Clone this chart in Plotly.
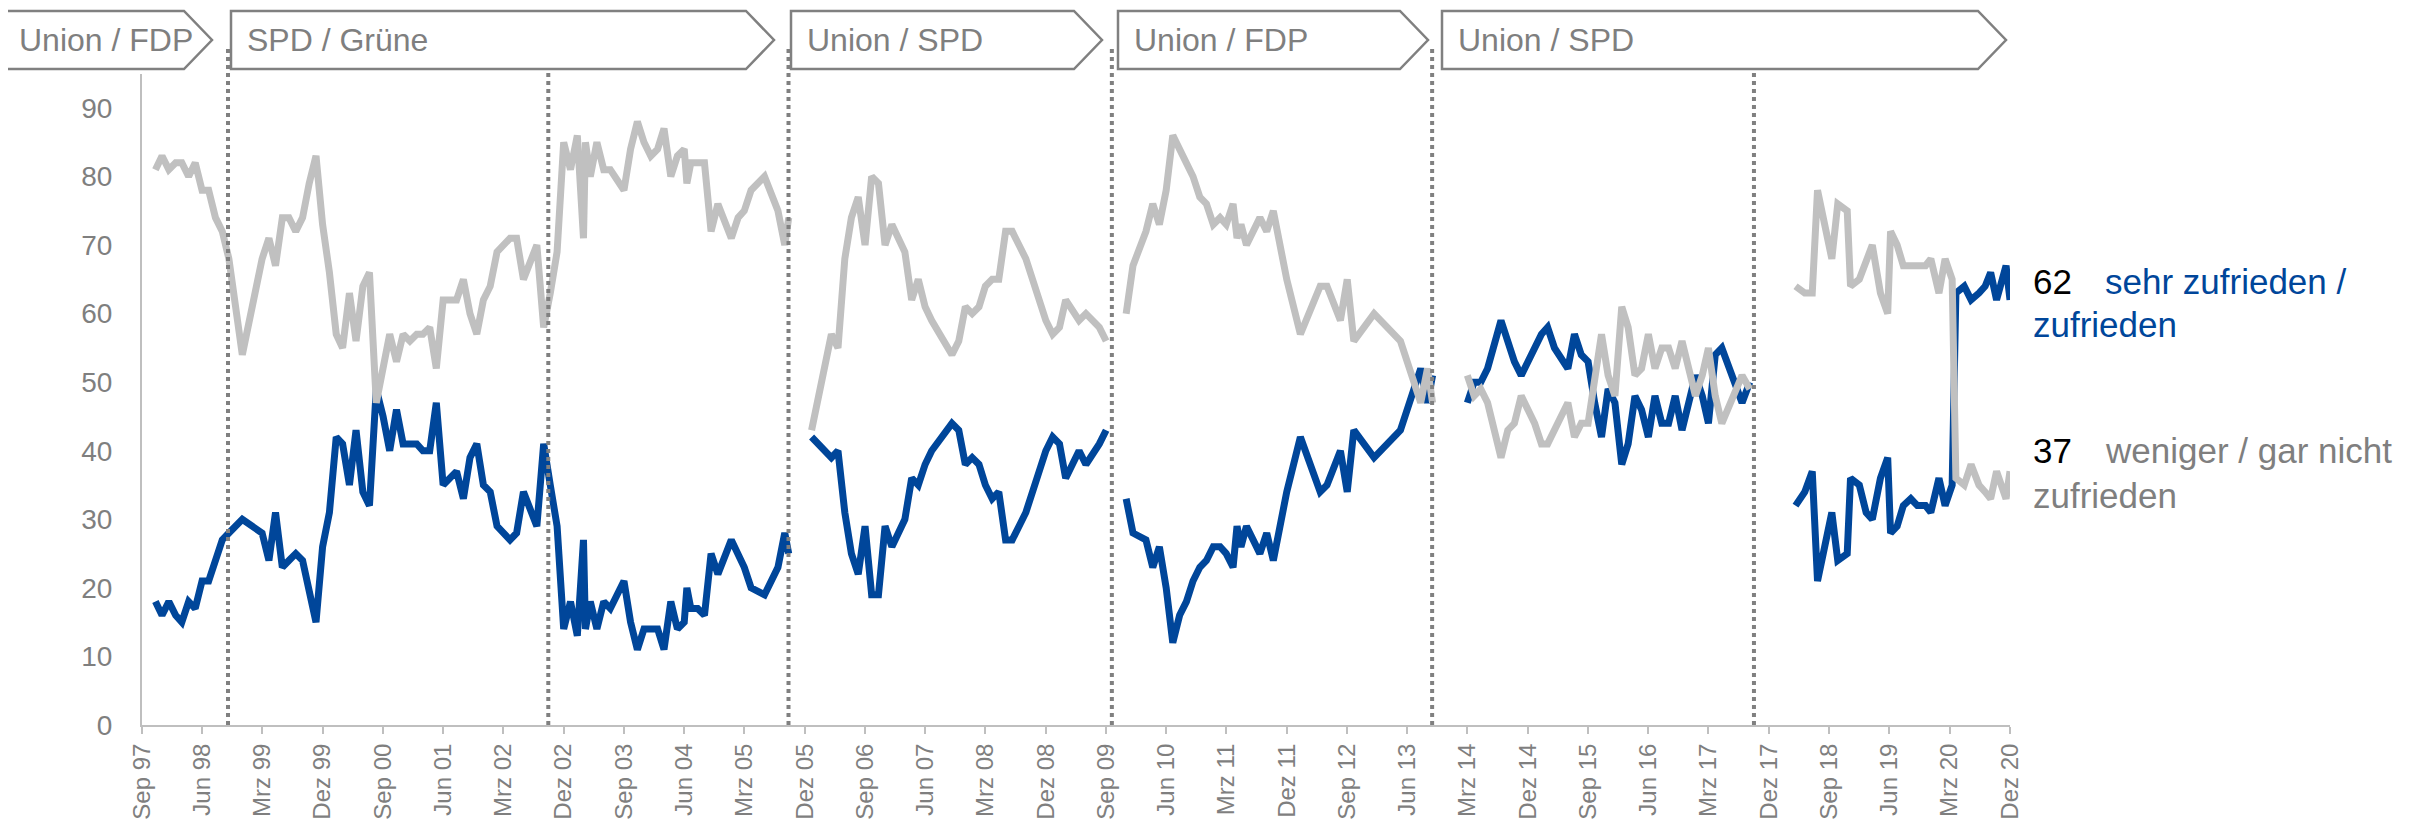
import plotly.graph_objects as go

# ---------------- data ----------------
monate = [
    "1997-11-01","1997-12-01","1998-01-01","1998-02-01","1998-03-01","1998-04-01","1998-05-01","1998-06-01",
    "1998-07-01","1998-08-01","1998-09-01","1998-10-01","1998-12-01","1999-03-01","1999-04-01","1999-05-01",
    "1999-06-01","1999-07-01","1999-08-01","1999-09-01","1999-10-01","1999-11-01","1999-12-01","2000-01-01",
    "2000-02-01","2000-03-01","2000-04-01","2000-05-01","2000-06-01","2000-07-01","2000-08-01","2000-09-01",
    "2000-10-01","2000-11-01","2000-12-01","2001-01-01","2001-02-01","2001-03-01","2001-04-01","2001-05-01",
    "2001-06-01","2001-08-01","2001-09-01","2001-10-01","2001-11-01","2001-12-01","2002-01-01","2002-02-01",
    "2002-03-01","2002-04-01","2002-05-01","2002-06-01","2002-08-01","2002-09-01","2002-10-01","2002-11-01",
    "2002-12-01","2003-01-01","2003-02-01","2003-03-01","2003-03-10","2003-04-01","2003-05-01","2003-06-01",
    "2003-07-01","2003-09-01","2003-10-01","2003-11-01","2003-12-01","2004-01-01","2004-02-01","2004-03-01",
    "2004-04-01","2004-05-01","2004-06-01","2004-06-13","2004-07-01","2004-08-01","2004-09-01","2004-10-01",
    "2004-11-01","2005-01-01","2005-02-01","2005-03-01","2005-04-01","2005-06-01","2005-08-01","2005-09-01",
    "2005-09-19","2005-11-01",
    "2006-01-01","2006-04-01","2006-05-01","2006-06-01","2006-07-01","2006-08-01","2006-09-01","2006-10-01",
    "2006-11-01","2006-12-01","2007-01-01","2007-03-01","2007-04-01","2007-05-01","2007-06-01","2007-07-01",
    "2007-10-01","2007-11-01","2007-12-01","2008-01-01","2008-02-01","2008-03-01","2008-04-01","2008-05-01",
    "2008-06-01","2008-07-01","2008-09-01","2008-12-01","2009-01-01","2009-02-01","2009-03-01","2009-05-01",
    "2009-06-01","2009-08-01","2009-09-01","2009-10-15",
    "2009-12-01","2010-01-01","2010-03-01","2010-04-01","2010-05-01","2010-06-01","2010-07-01","2010-08-01",
    "2010-09-01","2010-10-01","2010-11-01","2010-12-01","2011-01-01","2011-02-01","2011-03-01","2011-04-01",
    "2011-04-19","2011-05-07","2011-06-01","2011-08-01","2011-09-01","2011-10-01","2011-12-01","2012-02-01",
    "2012-05-01","2012-06-01","2012-08-01","2012-09-01","2012-10-01","2013-01-01","2013-05-01","2013-07-01",
    "2013-08-01","2013-09-01","2013-09-24","2013-12-01",
    "2014-03-01","2014-04-01","2014-05-01","2014-06-01","2014-08-01","2014-09-01","2014-10-01","2014-11-01",
    "2015-01-01","2015-02-01","2015-03-01","2015-04-01","2015-06-01","2015-07-01","2015-08-01","2015-09-01",
    "2015-10-01","2015-11-01","2015-12-01","2016-01-01","2016-02-01","2016-03-01","2016-04-01","2016-05-01",
    "2016-06-01","2016-07-01","2016-08-01","2016-09-01","2016-10-01","2016-11-01","2017-01-01","2017-02-01",
    "2017-03-01","2017-04-01","2017-05-01","2017-07-01","2017-08-01","2017-09-05","2017-12-01",
    "2018-04-01","2018-05-13","2018-06-16","2018-07-10","2018-09-13","2018-10-10","2018-11-22","2018-12-07",
    "2019-01-16","2019-02-16","2019-03-16","2019-04-22","2019-05-25","2019-06-07","2019-07-07","2019-08-04",
    "2019-09-07","2019-10-07","2019-11-13","2019-12-07","2020-01-13","2020-02-10","2020-03-13","2020-03-30",
    "2020-05-07","2020-06-07","2020-07-13","2020-08-10","2020-09-04","2020-10-01","2020-11-13","2020-12-01",
]

# "sehr zufrieden / zufrieden" (None = Lücke zwischen Regierungsperioden)
zufrieden = [
    18,16,18,16,15,18,17,21, 21,24,27,28,30,28,24,31,
    23,24,25,24,19,15,26,31, 42,41,35,43,34,32,49,45,
    40,46,41,41,41,40,40,47, 35,37,33,39,41,35,34,29,
    28,27,28,34,29,41,35,29, 14,18,13,27,14,18,14,18,
    17,21,15,11,14,14,14,11, 18,14,15,20,17,17,16,25,
    22,27,25,23,20,19,23,28, 25,None,
    42,39,40,31,25,22,29,19, 19,29,26,30,36,35,38,40,
    44,43,38,39,38,35,33,34, 27,27,31,40,42,41,36,40,
    38,41,43,None,
    33,28,27,23,26,20,12,16, 18,21,23,24,26,26,25,23,
    29,26,29,25,28,24,34,42, 34,35,40,34,43,39,43,49,
    52,47,51,None,
    47,50,50,52,59,56,53,51, 55,57,58,55,52,57,54,53,
    47,42,49,47,38,41,48,46, 42,48,44,44,48,43,51,48,
    44,54,55,50,47,50,None,
    32,34,37,21,31,24,25,36, 35,31,30,36,39,28,29,32,
    33,32,32,31,36,32,35,63, 64,62,63,64,66,62,67,62,
]

# "weniger / gar nicht zufrieden"
nicht_zufrieden = [
    81,83,81,82,82,80,82,78, 78,74,72,68,54,68,71,67,
    74,74,72,74,79,83,73,66, 57,55,63,56,64,66,47,52,
    57,53,57,56,57,57,58,52, 62,62,65,60,57,62,64,69,
    70,71,71,65,70,58,63,69, 85,81,86,71,85,80,85,81,
    81,78,84,88,85,83,84,87, 80,83,84,79,82,82,82,72,
    76,71,74,75,78,80,75,70, 74,None,
    43,57,55,68,74,77,70,80, 79,70,73,69,62,65,61,59,
    54,56,61,60,61,64,65,65, 72,72,68,59,57,58,62,59,
    60,58,56,None,
    60,67,72,76,73,78,86,84, 82,80,77,76,73,74,73,76,
    71,73,70,74,72,75,65,57, 64,64,59,65,56,60,56,50,
    47,52,47,None,
    51,48,49,47,39,43,44,48, 44,41,41,43,47,42,44,44,
    50,57,51,48,61,58,51,52, 57,52,55,55,52,56,48,51,
    55,48,44,49,51,49,None,
    64,63,63,78,68,76,75,64, 65,68,70,63,60,72,70,67,
    67,67,67,68,63,68,65,36, 35,38,35,34,33,37,33,37,
]

tick_daten = [
    "1997-09-01","1998-06-01","1999-03-01","1999-12-01","2000-09-01","2001-06-01","2002-03-01","2002-12-01",
    "2003-09-01","2004-06-01","2005-03-01","2005-12-01","2006-09-01","2007-06-01","2008-03-01","2008-12-01",
    "2009-09-01","2010-06-01","2011-03-01","2011-12-01","2012-09-01","2013-06-01","2014-03-01","2014-12-01",
    "2015-09-01","2016-06-01","2017-03-01","2017-12-01","2018-09-01","2019-06-01","2020-03-01","2020-12-01",
]
tick_labels = [
    "Sep 97","Jun 98","Mrz 99","Dez 99","Sep 00","Jun 01","Mrz 02","Dez 02",
    "Sep 03","Jun 04","Mrz 05","Dez 05","Sep 06","Jun 07","Mrz 08","Dez 08",
    "Sep 09","Jun 10","Mrz 11","Dez 11","Sep 12","Jun 13","Mrz 14","Dez 14",
    "Sep 15","Jun 16","Mrz 17","Dez 17","Sep 18","Jun 19","Mrz 20","Dez 20",
]

wahltermine = ["1998-09-27", "2002-09-22", "2005-09-18", "2009-09-27", "2013-09-22", "2017-09-24"]

koalitionen = ["Union / FDP", "SPD / Grüne", "Union / SPD", "Union / FDP", "Union / SPD"]

letzter_wert_zufrieden = "62"
letzter_wert_nicht = "37"

# ---------------- layout geometry ----------------
# page body has an 8px margin; screen coordinates are converted below
OFF = 8
SCREEN_W, SCREEN_H = 2418, 828
W, H = SCREEN_W - 2 * OFF, SCREEN_H - 2 * OFF
# plot area in screen pixels
X_LEFT, X_RIGHT, Y_TOP, Y_BOTTOM = 142, 2010, 74, 725
L = X_LEFT - OFF
R = W - (X_RIGHT - OFF)
T = Y_TOP - OFF
B = H - (Y_BOTTOM - OFF)
PW = X_RIGHT - X_LEFT
PH = Y_BOTTOM - Y_TOP

def px(x):
    return (x - X_LEFT) / PW

def py(y):
    return (Y_BOTTOM - y) / PH

BLUE = "#00469a"
GREY_LINE = "#c0c0c0"
TEXT_GREY = "#7f7f7f"
AXIS_GREY = "#bfbfbf"
FONT = "Liberation Sans, Arial, sans-serif"

fig = go.Figure()
fig.add_trace(go.Scatter(
    x=monate, y=zufrieden, mode="lines",
    line=dict(color=BLUE, width=7), connectgaps=False,
    name="sehr zufrieden / zufrieden", showlegend=False,
))
fig.add_trace(go.Scatter(
    x=monate, y=nicht_zufrieden, mode="lines",
    line=dict(color=GREY_LINE, width=7), connectgaps=False,
    name="weniger / gar nicht zufrieden", showlegend=False,
))

shapes = []
for d in wahltermine:
    shapes.append(dict(
        type="line", xref="x", yref="paper", x0=d, x1=d, y0=0, y1=py(45),
        line=dict(color="#808080", width=4, dash="4px,4px"), layer="above",
    ))

# chevron boxes (screen pixel positions: left edge, tip)
box_px = [(3, 212), (231, 774), (791, 1102), (1118, 1428), (1442, 2006)]
top_y, bot_y, mid_y = 11, 69, 40
depth = 28
annotations = []
for (x0, tip), label in zip(box_px, koalitionen):
    path = (f"M {px(x0)},{py(top_y)} L {px(tip - depth)},{py(top_y)} L {px(tip)},{py(mid_y)} "
            f"L {px(tip - depth)},{py(bot_y)} L {px(x0)},{py(bot_y)} Z")
    shapes.append(dict(
        type="path", xref="paper", yref="paper", path=path,
        line=dict(color="#808080", width=2.5), fillcolor="white", layer="above",
    ))
    annotations.append(dict(
        xref="paper", yref="paper", x=px(x0 + 14), y=py(mid_y),
        xanchor="left", yanchor="middle", showarrow=False, text=label,
        font=dict(family=FONT, size=32, color=TEXT_GREY),
    ))

right_font = 35
lab = [
    (2031, 281, letzter_wert_zufrieden, "#000000"),
    (2103, 281, "sehr zufrieden /", BLUE),
    (2031, 324, "zufrieden", BLUE),
    (2031, 450, letzter_wert_nicht, "#000000"),
    (2103, 450, "weniger / gar nicht", TEXT_GREY),
    (2031, 495, "zufrieden", TEXT_GREY),
]
for x, y, t, c in lab:
    annotations.append(dict(
        xref="paper", yref="paper", x=px(x), y=py(y),
        xanchor="left", yanchor="middle", showarrow=False, text=t,
        font=dict(family=FONT, size=right_font, color=c),
    ))

fig.update_layout(
    width=W, height=H,
    margin=dict(l=L, r=R, t=T, b=B, pad=0, autoexpand=False),
    paper_bgcolor="white", plot_bgcolor="white",
    showlegend=False,
    shapes=shapes, annotations=annotations,
    font=dict(family=FONT, color=TEXT_GREY),
)
fig.update_xaxes(
    type="date", range=["1997-09-01", "2020-12-01"], automargin=False,
    tickmode="array", tickvals=tick_daten, ticktext=tick_labels, tickangle=-90,
    ticks="outside", ticklen=7, tickwidth=2, tickcolor=AXIS_GREY,
    showline=True, linecolor=AXIS_GREY, linewidth=2,
    showgrid=False, zeroline=False,
    tickfont=dict(family=FONT, size=24, color=TEXT_GREY),
)
fig.update_yaxes(
    range=[0, (Y_BOTTOM - Y_TOP) / 6.856], automargin=False,
    tickmode="array", tickvals=list(range(0, 100, 10)),
    ticks="", showline=True, linecolor=AXIS_GREY, linewidth=2,
    showgrid=False, zeroline=False, ticklabelstandoff=22,
    tickfont=dict(family=FONT, size=28, color=TEXT_GREY),
)

fig.write_html("out.html")
